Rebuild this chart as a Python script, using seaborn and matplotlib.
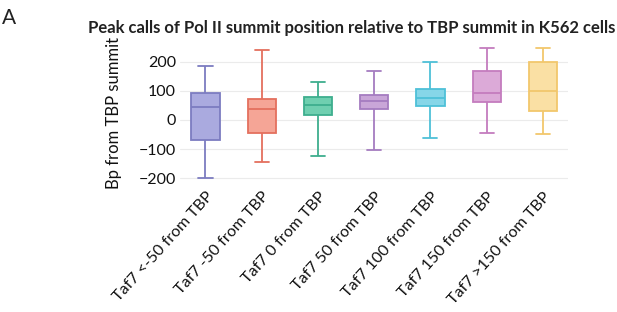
import matplotlib
matplotlib.use("Agg")
import matplotlib.pyplot as plt
import seaborn as sns
import pandas as pd

categories = ["Taf7 <-50 from TBP", "Taf7 -50 from TBP", "Taf7 0 from TBP",
              "Taf7 50 from TBP", "Taf7 100 from TBP", "Taf7 150 from TBP",
              "Taf7 >150 from TBP"]
# five-number summaries: min, Q1, median, Q3, max
mins    = [-201, -146, -123, -102, -61, -45, -47]
q1s     = [-68, -44, 16, 38, 48, 60, 29]
medians = [44, 39, 51, 64, 74, 92, 100]
q3s     = [94, 72, 78, 86, 107, 169, 200]
maxs    = [185, 239, 132, 167, 198, 246, 248]

face_colors = ["#aaaadf", "#f5a596", "#6fcfb0", "#c9a6d8", "#86d6e8", "#dcaad8", "#fae0a4"]
edge_colors = ["#7c7cc0", "#e4705e", "#3eae8e", "#a57cc0", "#4ec0d8", "#c47cbe", "#f2c76c"]

rows = []
for c, a, b, m, d, e in zip(categories, mins, q1s, medians, q3s, maxs):
    for v in (a, b, m, d, e):
        rows.append({"group": c, "value": v})
df = pd.DataFrame(rows)

sns.set_theme(style="white")
plt.rcParams["font.family"] = ["Lato", "DejaVu Sans"]

fig = plt.figure(figsize=(6.17, 3.12), dpi=100)
ax = fig.add_axes([0.292, 0.415, 0.629, 0.445])

sns.boxplot(data=df, x="group", y="value", order=categories, whis=(0, 100),
            width=0.5, ax=ax, showfliers=False, linewidth=1.3)

for i, patch in enumerate(ax.patches):
    patch.set_facecolor(face_colors[i])
    patch.set_edgecolor(edge_colors[i])
lines = ax.lines
per = len(lines) // len(categories)
for i in range(len(categories)):
    for ln in lines[i * per:(i + 1) * per]:
        ln.set_color(edge_colors[i])
        ln.set_linewidth(1.3)

ax.set_ylim(-215, 262)
ax.set_xlim(-0.45, 6.45)
ax.set_yticks([-200, -100, 0, 100, 200])
ax.yaxis.grid(True, color="#ebebeb", linewidth=0.8)
ax.set_axisbelow(True)
for s in ax.spines.values():
    s.set_visible(False)
ax.tick_params(axis="both", length=0, colors="#111111")
ax.tick_params(axis="y", labelsize=11.5, pad=3)
ax.set_xlabel("")
ax.set_ylabel("Bp from TBP summit", fontsize=12, color="#111111", labelpad=12)
ax.set_xticks(range(len(categories)))
ax.set_xticklabels(categories, rotation=48, ha="right", rotation_mode="anchor", fontsize=11.5)
ax.tick_params(axis="x", pad=5)

fig.text(0.003, 0.975, "A", fontsize=15, va="top", ha="left", color="#222222")
fig.text(0.998, 0.935, "Peak calls of Pol II summit position relative to TBP summit in K562 cells",
         fontsize=12, fontweight="bold", ha="right", va="top", color="#222222")

fig.savefig("out.png", dpi=100)
